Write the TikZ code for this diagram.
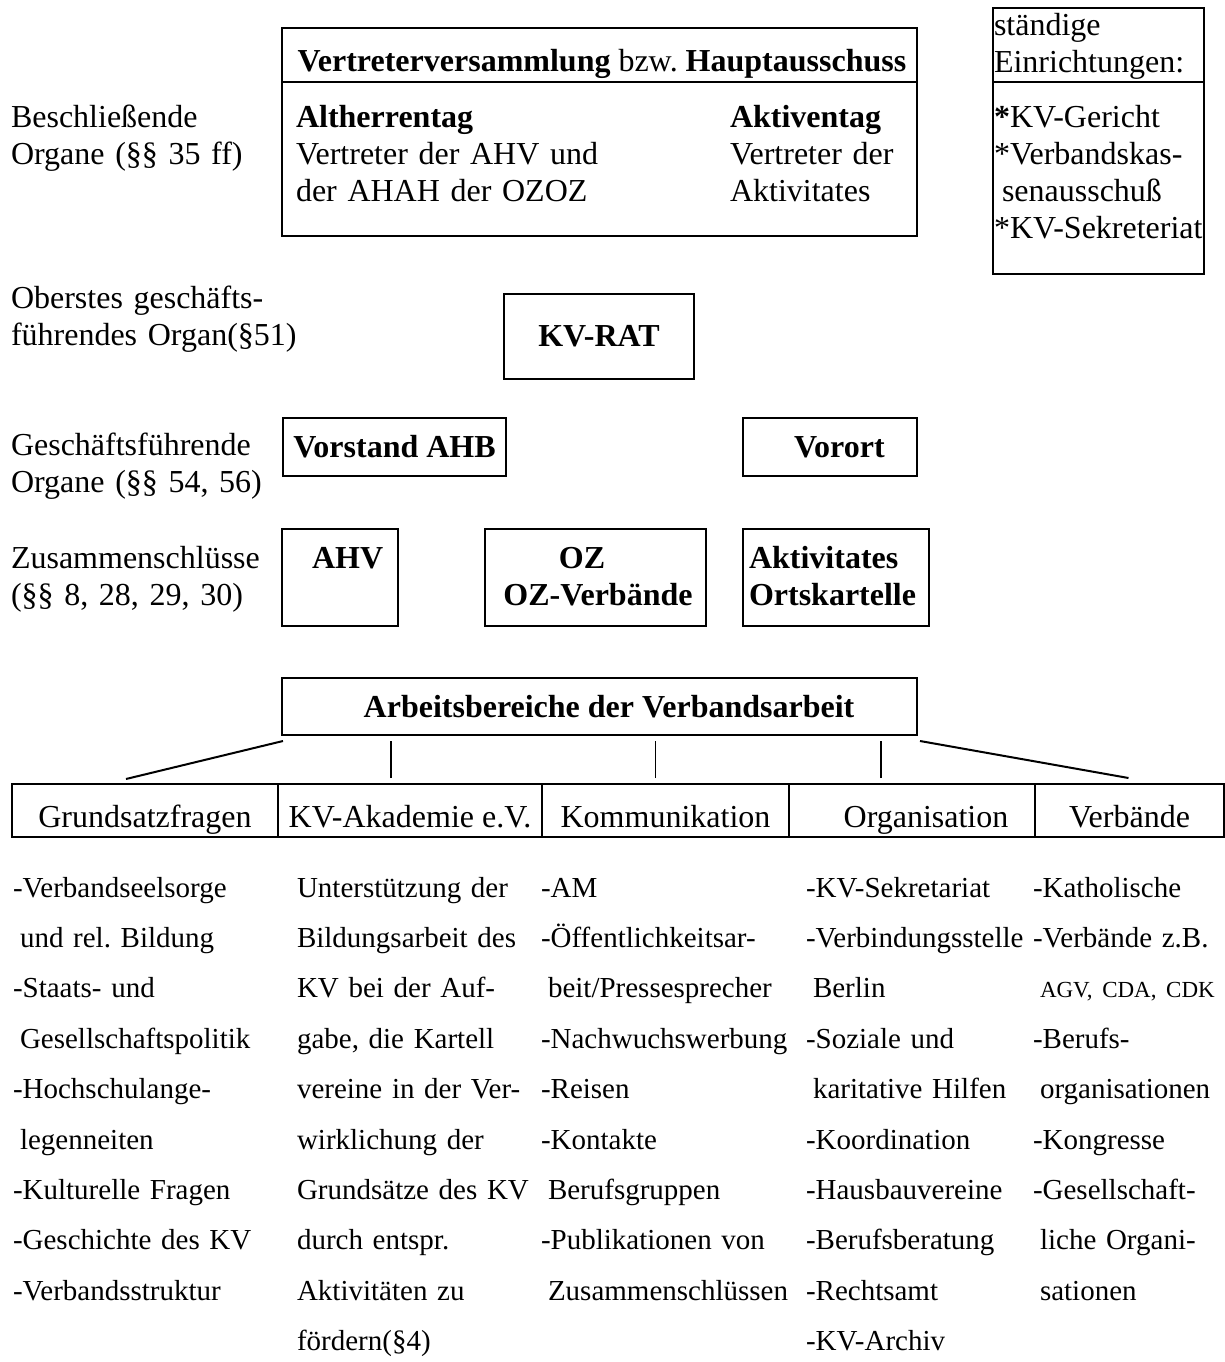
\documentclass[tikz,border=0pt]{standalone}
\usepackage{fontspec}
\setmainfont{Liberation Serif}
\usetikzlibrary{calc}
\frenchspacing

\begin{document}
\begin{tikzpicture}[x=1pt, y=-1pt, line width=2pt,
    font=\fontsize{32}{37}\selectfont,
    fett/.style={font=\fontsize{32}{37}\selectfont\bfseries},
    kasten/.style={draw, anchor=north west, inner sep=0pt},
    zeilen/.style={anchor=base west, inner sep=0pt, text width=#1, align=left},
    spalte/.style={anchor=base west, inner sep=0pt, text width=#1, align=left, font=\fontsize{29}{50.4}\selectfont},
    bereich/.style={draw, anchor=north west, inner sep=0pt, minimum height=53pt, text height=40pt, text depth=7pt}]

\useasboundingbox (0,0) rectangle (1225,1362);

\node[zeilen=270pt] (beschl) at (10,128) {Beschließende\\Organe (§§ 35 ff)};
\node[kasten, minimum width=635pt, minimum height=208pt] (vv) at (281,27) {};
\coordinate (vvlinie) at (0,82);
\draw (vv.west |- vvlinie) -- (vv.east |- vvlinie);
\node[anchor=base, inner sep=0pt] (vvkopf) at (602,72) {\textbf{Vertreterversammlung} bzw. \textbf{Hauptausschuss}};
\node[zeilen=330pt] (ahtag) at (295,128) {\textbf{Altherrentag}\\Vertreter der AHV und\\der AHAH der OZOZ};
\node[zeilen=180pt] (aktag) at (729,128) {\textbf{Aktiventag}\\Vertreter der\\Aktivitates};

\node[kasten, minimum width=211pt, minimum height=266pt] (staendig) at (992,7) {};
\draw (staendig.west |- vvlinie) -- (staendig.east |- vvlinie);
\node[zeilen=240pt] (stkopf) at (993,36) {ständige\\Einrichtungen:};
\node[zeilen=240pt] (stliste) at (993,128) {\textbf{*}KV-Gericht\\{}*Verbandskas-\\\hspace*{8pt}senausschuß\\{}*KV-Sekreteriat};

\node[zeilen=330pt] (oberst) at (10,308) {Oberstes geschäfts-\\führendes Organ(§51)};
\node[kasten, fett, minimum width=190pt, minimum height=85pt] (kvrat) at (503,293) {KV-RAT};

\node[zeilen=270pt] (gesch) at (10,455) {Geschäftsführende\\Organe (§§ 54, 56)};
\node[kasten, fett, minimum width=223pt, minimum height=58pt] (vorstand) at (282,417) {Vorstand AHB};
\node[kasten, minimum width=174pt, minimum height=58pt] (vorortbox) at (742,417) {};
\node[anchor=base west, inner sep=0pt, fett] (vorort) at (793,457) {Vorort};

\node[zeilen=270pt] (zus) at (10,568) {Zusammenschlüsse\\(§§ 8, 28, 29, 30)};
\node[kasten, minimum width=116pt, minimum height=97pt] (ahvbox) at (281,528) {};
\node[anchor=base west, inner sep=0pt, fett] (ahv) at (311,568) {AHV};
\node[kasten, minimum width=221pt, minimum height=97pt] (ozbox) at (484,528) {};
\node[anchor=base, inner sep=0pt, fett] (oz) at (582,568) {OZ};
\node[anchor=base, inner sep=0pt, fett] (ozverb) at (598,605) {OZ-Verbände};
\node[kasten, minimum width=186pt, minimum height=97pt] (aktbox) at (742,528) {};
\node[zeilen=200pt, fett] (akt) at (748,568) {Aktivitates\\Ortskartelle};

\node[kasten, minimum width=635pt, minimum height=57pt] (arb) at (281,677) {};
\node[anchor=base, inner sep=0pt, fett] (arbtext) at (609,717) {Arbeitsbereiche der Verbandsarbeit};

\node[bereich, minimum width=266pt] (grund) at (11,783) {Grundsatzfragen};
\node[bereich, minimum width=264pt] (akad) at (277,783) {KV-Akademie e.V.};
\node[bereich, minimum width=247pt] (komm) at (541,783) {Kommunikation};
\node[bereich, minimum width=246pt] (orga) at (788,783) {\hspace*{28pt}Organisation};
\node[bereich, minimum width=189pt] (verb) at (1034,783) {Verbände};

\draw ($(arb.south west)+(2,5)$) -- ($(grund.north)+(-19,-4)$);
\draw ($(arb.south east)+(2,5)$) -- ($(verb.north)+(-1,-5)$);
\foreach \feld/\dx in {akad/-19, komm/-10, orga/-31}
  \draw[line width=1.5pt] ($(\feld.north)+(\dx,-5)$) -- ++(0,-37);

\node[spalte=400pt] (sp1) at (12,897) {-Verbandseelsorge\\\hspace*{7pt}und rel. Bildung\\-Staats- und\\\hspace*{7pt}Gesellschaftspolitik\\-Hochschulange-\\\hspace*{7pt}legenneiten\\-Kulturelle Fragen\\-Geschichte des KV\\-Verbandsstruktur};
\node[spalte=400pt] (sp2) at (296,897) {Unterstützung der\\Bildungsarbeit des\\KV bei der Auf-\\gabe, die Kartell\\vereine in der Ver-\\wirklichung der\\Grundsätze des KV\\durch entspr.\\Aktivitäten zu\\fördern(§4)};
\node[spalte=400pt] (sp3) at (540,897) {-AM\\-Öffentlichkeitsar-\\\hspace*{7pt}beit/Pressesprecher\\-Nachwuchswerbung\\-Reisen\\-Kontakte\\\hspace*{7pt}Berufsgruppen\\-Publikationen von\\\hspace*{7pt}Zusammenschlüssen};
\node[spalte=400pt] (sp4) at (805,897) {-KV-Sekretariat\\-Verbindungsstelle\\\hspace*{7pt}Berlin\\-Soziale und\\\hspace*{7pt}karitative Hilfen\\-Koordination\\-Hausbauvereine\\-Berufsberatung\\-Rechtsamt\\-KV-Archiv};
\node[spalte=400pt] (sp5) at (1032,897) {-Katholische\\-Verbände z.B.\\\hspace*{7pt}{\fontsize{23}{50.4}\selectfont AGV, CDA, CDK}\\-Berufs-\\\hspace*{7pt}organisationen\\-Kongresse\\-Gesellschaft-\\\hspace*{7pt}liche Organi-\\\hspace*{7pt}sationen};
\end{tikzpicture}
\end{document}
